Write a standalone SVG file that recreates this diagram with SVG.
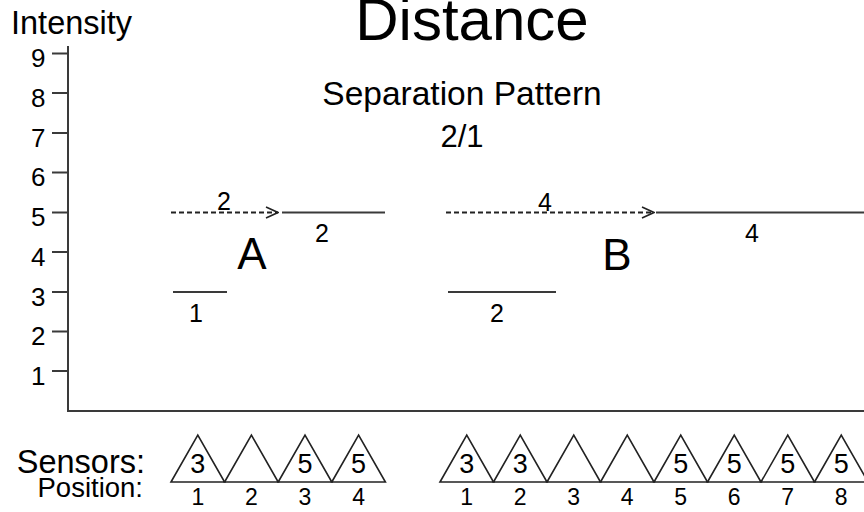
<svg xmlns="http://www.w3.org/2000/svg" width="864" height="512" viewBox="0 0 864 512">
<defs>
<style>
text{font-family:"Liberation Sans",Arial,sans-serif;fill:#000}
.ax{stroke:#3a3a3a;stroke-width:2;fill:none}
.ln{stroke:#3a3a3a;stroke-width:2;fill:none}
.dash{stroke:#222;stroke-width:1.8;fill:none;stroke-dasharray:5 3}
.tri{stroke:#222;stroke-width:1.6;fill:#fff;stroke-linejoin:miter}
.tick{font-size:26px;text-anchor:end}
.lbl{font-size:25px;text-anchor:middle}
.sn{font-size:27px;text-anchor:middle}
.pn{font-size:23px;text-anchor:middle}
</style>
<marker id="arr" viewBox="0 0 14 14" refX="13" refY="7" markerWidth="14" markerHeight="14" markerUnits="userSpaceOnUse" orient="auto">
<path d="M1,1.5 L13,7 L1,12.5" fill="none" stroke="#222" stroke-width="1.6"/>
</marker>
</defs>
<rect width="864" height="512" fill="#fff"/>

<g id="titles">
<text x="472" y="40" font-size="60" text-anchor="middle">Distance</text>
<text x="11" y="34" font-size="32.5">Intensity</text>
<text x="462" y="105" font-size="33.5" text-anchor="middle">Separation Pattern</text>
<text x="462" y="147" font-size="31" text-anchor="middle">2/1</text>
</g>

<g id="axes">
<path class="ax" d="M68,46 V411 H864"/>
<path class="ax" d="M52,53.5 H68 M52,93 H68 M52,133 H68 M52,172.5 H68 M52,212.5 H68 M52,252 H68 M52,292 H68 M52,331.5 H68 M52,371 H68"/>
<text class="tick" x="45.5" y="67">9</text>
<text class="tick" x="45.5" y="107">8</text>
<text class="tick" x="45.5" y="146.5">7</text>
<text class="tick" x="45.5" y="186">6</text>
<text class="tick" x="45.5" y="226">5</text>
<text class="tick" x="45.5" y="265.5">4</text>
<text class="tick" x="45.5" y="305.5">3</text>
<text class="tick" x="45.5" y="345">2</text>
<text class="tick" x="45.5" y="384.5">1</text>
</g>

<g id="connectors">
<line class="dash" x1="171" y1="212.5" x2="278" y2="212.5" marker-end="url(#arr)"/>
<line class="dash" x1="446" y1="212.5" x2="654" y2="212.5" marker-end="url(#arr)"/>
</g>

<g id="groupA">
<line class="ln" x1="282" y1="212.5" x2="385" y2="212.5"/>
<line class="ln" x1="173" y1="292" x2="227" y2="292"/>
<text class="lbl" x="224" y="210">2</text>
<text class="lbl" x="322" y="242">2</text>
<text class="lbl" x="196" y="322">1</text>
<text x="252" y="269" font-size="44" text-anchor="middle">A</text>
</g>

<g id="groupB">
<line class="ln" x1="656" y1="212.5" x2="864" y2="212.5"/>
<line class="ln" x1="448" y1="292" x2="556" y2="292"/>
<text class="lbl" x="545" y="211">4</text>
<text class="lbl" x="752" y="242">4</text>
<text class="lbl" x="497" y="322">2</text>
<text x="617" y="270" font-size="44" text-anchor="middle">B</text>
</g>

<g id="sensorsA">
<text x="145" y="473" font-size="32.5" text-anchor="end">Sensors:</text>
<text x="143" y="497" font-size="27.5" text-anchor="end">Position:</text>
<path class="tri" d="M171,482 L197.8,435 L224.6,482 Z"/>
<path class="tri" d="M224.6,482 L251.4,435 L278.2,482 Z"/>
<path class="tri" d="M278.2,482 L305,435 L331.8,482 Z"/>
<path class="tri" d="M331.8,482 L358.6,435 L385.4,482 Z"/>
<text class="sn" x="197.8" y="473">3</text>
<text class="sn" x="305" y="473">5</text>
<text class="sn" x="358.6" y="473">5</text>
<text class="pn" x="197.8" y="505">1</text>
<text class="pn" x="251.4" y="505">2</text>
<text class="pn" x="305" y="505">3</text>
<text class="pn" x="358.6" y="505">4</text>
</g>

<g id="sensorsB">
<path class="tri" d="M440,482 L466.75,435 L493.5,482 Z"/>
<path class="tri" d="M493.5,482 L520.25,435 L547,482 Z"/>
<path class="tri" d="M547,482 L573.75,435 L600.5,482 Z"/>
<path class="tri" d="M600.5,482 L627.25,435 L654,482 Z"/>
<path class="tri" d="M654,482 L680.75,435 L707.5,482 Z"/>
<path class="tri" d="M707.5,482 L734.25,435 L761,482 Z"/>
<path class="tri" d="M761,482 L787.75,435 L814.5,482 Z"/>
<path class="tri" d="M814.5,482 L841.25,435 L868,482 Z"/>
<text class="sn" x="466.75" y="473">3</text>
<text class="sn" x="520.25" y="473">3</text>
<text class="sn" x="680.75" y="473">5</text>
<text class="sn" x="734.25" y="473">5</text>
<text class="sn" x="787.75" y="473">5</text>
<text class="sn" x="841.25" y="473">5</text>
<text class="pn" x="466.75" y="505">1</text>
<text class="pn" x="520.25" y="505">2</text>
<text class="pn" x="573.75" y="505">3</text>
<text class="pn" x="627.25" y="505">4</text>
<text class="pn" x="680.75" y="505">5</text>
<text class="pn" x="734.25" y="505">6</text>
<text class="pn" x="787.75" y="505">7</text>
<text class="pn" x="841.25" y="505">8</text>
</g>
</svg>
